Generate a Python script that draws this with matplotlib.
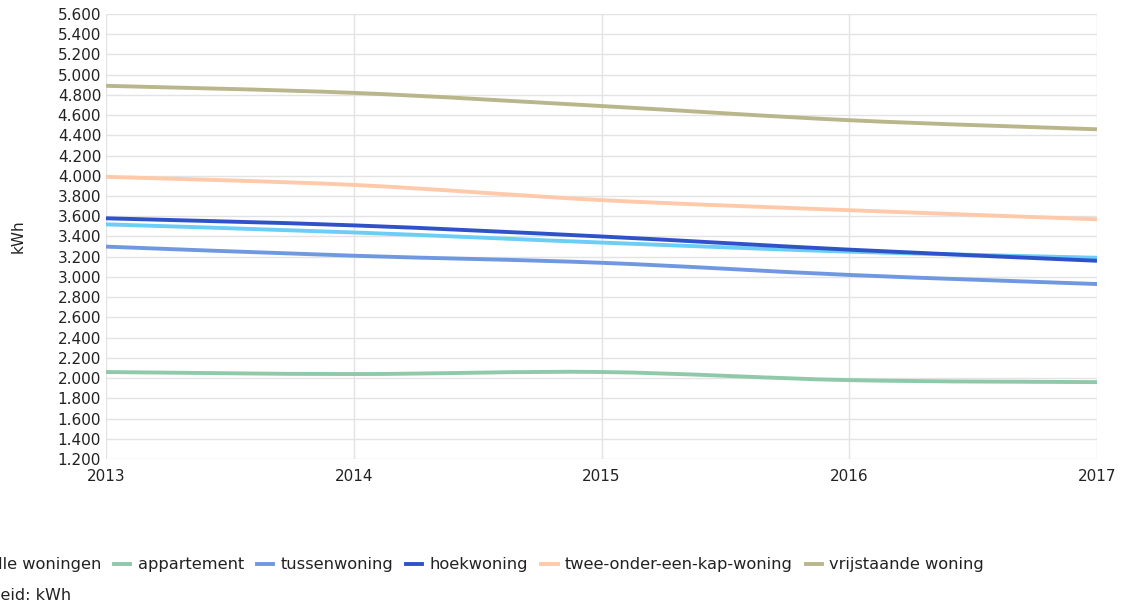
import matplotlib
matplotlib.use("Agg")
import matplotlib.pyplot as plt
import numpy as np
from matplotlib.path import Path
from matplotlib.patches import PathPatch
from matplotlib.lines import Line2D
from matplotlib.ticker import FuncFormatter, MultipleLocator

plt.rcParams['font.family'] = ['DejaVu Sans']

years = [2013, 2014, 2015, 2016, 2017]
series_names = ["Alle woningen", "appartement", "tussenwoning", "hoekwoning",
                "twee-onder-een-kap-woning", "vrijstaande woning"]
alle_woningen = [3.52, 3.44, 3.34, 3.25, 3.19]
appartement = [2.06, 2.04, 2.06, 1.98, 1.96]
tussenwoning = [3.30, 3.21, 3.14, 3.02, 2.93]
hoekwoning = [3.58, 3.51, 3.40, 3.27, 3.16]
twee_onder_een_kap = [3.99, 3.91, 3.76, 3.66, 3.57]
vrijstaande = [4.89, 4.82, 4.69, 4.55, 4.46]
series_values = [alle_woningen, appartement, tussenwoning, hoekwoning,
                 twee_onder_een_kap, vrijstaande]
colors = ["#6ccdf6", "#8fc9a9", "#7098e0", "#2f52c9", "#ffc9aa", "#bab68c"]

fig = plt.figure(figsize=(11.25, 6.08), dpi=100)
ax = fig.add_axes([106/1125, 1-459/608, (1097-106)/1125, (459-14)/608])


def smooth_path(xs, ys, tension=1/6):
    xs = np.asarray(xs, float); ys = np.asarray(ys, float)
    n = len(xs)
    verts = [(xs[0], ys[0])]
    codes = [Path.MOVETO]
    for i in range(n - 1):
        p0 = np.array([xs[max(i-1, 0)], ys[max(i-1, 0)]])
        p1 = np.array([xs[i], ys[i]])
        p2 = np.array([xs[i+1], ys[i+1]])
        p3 = np.array([xs[min(i+2, n-1)], ys[min(i+2, n-1)]])
        c1 = p1 + (p2 - p0) * tension
        c2 = p2 - (p3 - p1) * tension
        verts += [tuple(c1), tuple(c2), tuple(p2)]
        codes += [Path.CURVE4] * 3
    return Path(verts, codes)


for name, vals, col in zip(series_names, series_values, colors):
    p = smooth_path(years, vals)
    ax.add_patch(PathPatch(p, facecolor='none', edgecolor=col, lw=2.8,
                           capstyle='butt', joinstyle='round', zorder=3))

ax.set_xlim(2013, 2017)
ax.set_ylim(1.2, 5.6)
ax.yaxis.set_major_locator(MultipleLocator(0.2))
ax.set_xticks(years)
ax.yaxis.set_major_formatter(FuncFormatter(lambda v, _: f"{v*1000:,.0f}".replace(",", ".")))
ax.grid(True, color="#e3e3e3", lw=1)
ax.set_axisbelow(True)
for s in ax.spines.values():
    s.set_visible(False)
ax.tick_params(length=0, labelsize=11, colors="#222222")
ax.tick_params(axis='y', pad=3.5)
ax.tick_params(axis='x', pad=7)
ax.set_ylabel("kWh", fontsize=11, color="#222222")
ax.yaxis.set_label_coords(-80/991, 0.5)

handles = [Line2D([], [], color=c, lw=2.8) for c in colors]
fig.legend(handles, series_names, loc='center right', ncol=6, frameon=False,
           bbox_to_anchor=(984/1125, 1-565/608), fontsize=11.7,
           handlelength=1.0, handletextpad=0.45, columnspacing=0.8,
           borderaxespad=0, borderpad=0, labelcolor="#222222")
fig.text(-40/1125, 1-595/608, "Eenheid: kWh", fontsize=11.5, color="#222222",
         va='center', ha='left')

fig.savefig("out.png", dpi=100)
